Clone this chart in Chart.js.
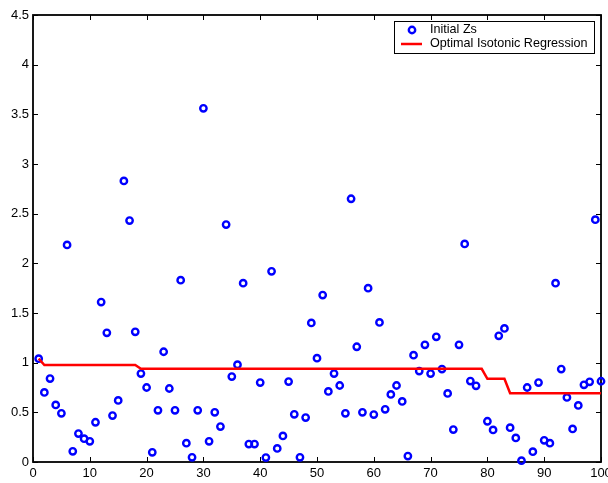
<!DOCTYPE html>
<html>
<head>
<meta charset="utf-8">
<script src="https://cdn.jsdelivr.net/npm/chart.js@4/dist/chart.umd.min.js"></script>
<style>
    html, body { margin: 0; padding: 0; background: #fff; overflow: hidden; }
    #wrap { width: 608px; height: 483px; overflow: hidden; }
</style>
</head>
<body>
<div id="wrap"><canvas id="zChart" width="620" height="483"></canvas></div>
<script>
// sample index (x)
const sampleIdx = [
    1, 2, 3, 4, 5, 6, 7, 8, 9, 10,
    11, 12, 13, 14, 15, 16, 17, 18, 19, 20,
    21, 22, 23, 24, 25, 26, 27, 28, 29, 30,
    31, 32, 33, 34, 35, 36, 37, 38, 39, 40,
    41, 42, 43, 44, 45, 46, 47, 48, 49, 50,
    51, 52, 53, 54, 55, 56, 57, 58, 59, 60,
    61, 62, 63, 64, 65, 66, 67, 68, 69, 70,
    71, 72, 73, 74, 75, 76, 77, 78, 79, 80,
    81, 82, 83, 84, 85, 86, 87, 88, 89, 90,
    91, 92, 93, 94, 95, 96, 97, 98, 99, 100
];

// initial Zs
const initialZs = [
    1.04, 0.70, 0.84, 0.575, 0.49, 2.185, 0.107, 0.286, 0.235, 0.208,
    0.40, 1.61, 1.30, 0.467, 0.62, 2.83, 2.43, 1.31, 0.89, 0.75,
    0.097, 0.52, 1.11, 0.74, 0.52, 1.83, 0.19, 0.047, 0.52, 3.56,
    0.208, 0.50, 0.357, 2.39, 0.86, 0.98, 1.80, 0.18, 0.18, 0.80,
    0.045, 1.92, 0.137, 0.262, 0.81, 0.48, 0.047, 0.447, 1.40, 1.045,
    1.68, 0.71, 0.89, 0.77, 0.49, 2.65, 1.16, 0.50, 1.75, 0.477,
    1.405, 0.53, 0.68, 0.77, 0.61, 0.06, 1.075, 0.915, 1.18, 0.89,
    1.26, 0.935, 0.69, 0.326, 1.18, 2.195, 0.815, 0.767, 4.25, 0.41,
    0.323, 1.27, 1.345, 0.346, 0.242, 0.013, 0.75, 0.104, 0.80, 0.218,
    0.19, 1.80, 0.935, 0.65, 0.333, 0.57, 0.777, 0.807, 2.44, 0.813
];

// fitted (isotonic) values
const isoFit = [
    1.04, 0.976, 0.976, 0.976, 0.976, 0.976, 0.976, 0.976, 0.976, 0.976,
    0.976, 0.976, 0.976, 0.976, 0.976, 0.976, 0.976, 0.976, 0.938, 0.938,
    0.938, 0.938, 0.938, 0.938, 0.938, 0.938, 0.938, 0.938, 0.938, 0.938,
    0.938, 0.938, 0.938, 0.938, 0.938, 0.938, 0.938, 0.938, 0.938, 0.938,
    0.938, 0.938, 0.938, 0.938, 0.938, 0.938, 0.938, 0.938, 0.938, 0.938,
    0.938, 0.938, 0.938, 0.938, 0.938, 0.938, 0.938, 0.938, 0.938, 0.938,
    0.938, 0.938, 0.938, 0.938, 0.938, 0.938, 0.938, 0.938, 0.938, 0.938,
    0.938, 0.938, 0.938, 0.938, 0.938, 0.938, 0.938, 0.938, 0.938, 0.837,
    0.837, 0.837, 0.837, 0.693, 0.693, 0.693, 0.693, 0.693, 0.693, 0.693,
    0.693, 0.693, 0.693, 0.693, 0.693, 0.693, 0.693, 0.693, 0.693, 0.693
];

const xTicks = [0, 10, 20, 30, 40, 50, 60, 70, 80, 90, 100];
const yTicks = [0, 0.5, 1, 1.5, 2, 2.5, 3, 3.5, 4, 4.5];
const yTickLabels = ['0', '0.5', '1', '1.5', '2', '2.5', '3', '3.5', '4', '4.5'];

const FONT = '"Liberation Sans", Arial, sans-serif';

// box around the plot with inward ticks on all sides
const framePlugin = {
    id: 'frame',
    beforeDatasetsDraw(chart) {
        const ctx = chart.ctx;
        const a = chart.chartArea;
        const xs = chart.scales.x, ys = chart.scales.y;
        ctx.save();
        ctx.strokeStyle = '#000';
        ctx.lineWidth = 1;
        xTicks.forEach(v => {
            const px = Math.round(xs.getPixelForValue(v)) + 0.5;
            ctx.beginPath();
            ctx.moveTo(px, a.bottom); ctx.lineTo(px, a.bottom - 5);
            ctx.moveTo(px, a.top); ctx.lineTo(px, a.top + 5);
            ctx.stroke();
        });
        yTicks.forEach(v => {
            const py = Math.round(ys.getPixelForValue(v)) + 0.5;
            ctx.beginPath();
            ctx.moveTo(a.left, py); ctx.lineTo(a.left + 5, py);
            ctx.moveTo(a.right, py); ctx.lineTo(a.right - 5, py);
            ctx.stroke();
        });
        ctx.lineWidth = 1.8;
        ctx.strokeRect(a.left, a.top, a.right - a.left, a.bottom - a.top);
        ctx.restore();
    }
};

// legend box drawn over the data, top right
const legendPlugin = {
    id: 'boxLegend',
    afterDraw(chart) {
        const ctx = chart.ctx;
        const ds = chart.data.datasets;
        const bx = 394, by = 21, bw = 200, bh = 32;
        ctx.save();
        ctx.fillStyle = '#fff';
        ctx.fillRect(bx, by, bw, bh);
        ctx.strokeStyle = '#000';
        ctx.lineWidth = 1;
        ctx.strokeRect(bx + 0.5, by + 0.5, bw, bh);

        ctx.strokeStyle = '#0000ff';
        ctx.lineWidth = 2.4;
        ctx.beginPath();
        ctx.arc(412, 30, 3.2, 0, Math.PI * 2);
        ctx.stroke();

        ctx.strokeStyle = '#ff0000';
        ctx.lineWidth = 2.5;
        ctx.beginPath();
        ctx.moveTo(401, 44); ctx.lineTo(422, 44);
        ctx.stroke();

        ctx.fillStyle = '#000';
        ctx.font = '12.6px ' + FONT;
        ctx.textBaseline = 'middle';
        ctx.fillText(ds[0].label, 430, 30);
        ctx.fillText(ds[1].label, 430, 44);
        ctx.restore();
    }
};

function createChart() {
    const ctx = document.getElementById('zChart').getContext('2d');
    const points = sampleIdx.map((x, i) => ({ x: x, y: initialZs[i] }));
    const fit = sampleIdx.map((x, i) => ({ x: x, y: isoFit[i] }));

    new Chart(ctx, {
        type: 'scatter',
        data: {
            datasets: [{
                label: 'Initial Zs',
                data: points,
                borderColor: '#0000ff',
                backgroundColor: 'rgba(0,0,0,0)',
                pointRadius: 3.2,
                pointBorderWidth: 2.4,
                pointHoverRadius: 3.2,
                clip: false,
                order: 1
            }, {
                label: 'Optimal Isotonic Regression',
                data: fit,
                showLine: true,
                borderColor: '#ff0000',
                borderWidth: 2.5,
                pointRadius: 0,
                fill: false,
                order: 0
            }]
        },
        options: {
            responsive: false,
            animation: false,
            devicePixelRatio: 1,
            layout: { padding: { left: 0, top: 15, right: 19, bottom: 0 } },
            plugins: {
                legend: { display: false },
                tooltip: { enabled: false }
            },
            scales: {
                x: {
                    type: 'linear',
                    min: 0,
                    max: 100,
                    afterBuildTicks: s => { s.ticks = xTicks.map(v => ({ value: v })); },
                    afterFit: s => { s.height = 21; },
                    grid: { display: false, drawTicks: false },
                    border: { display: false },
                    ticks: {
                        padding: 4,
                        color: '#000',
                        font: { family: FONT, size: 13 },
                        maxRotation: 0,
                        autoSkip: false,
                        callback: v => String(v)
                    }
                },
                y: {
                    type: 'linear',
                    min: 0,
                    max: 4.5,
                    afterBuildTicks: s => { s.ticks = yTicks.map(v => ({ value: v })); },
                    afterFit: s => { s.width = 33; },
                    grid: { display: false, drawTicks: false },
                    border: { display: false },
                    ticks: {
                        padding: 4,
                        color: '#000',
                        font: { family: FONT, size: 13 },
                        autoSkip: false,
                        callback: v => yTickLabels[yTicks.indexOf(v)]
                    }
                }
            }
        },
        plugins: [framePlugin, legendPlugin]
    });
}

document.addEventListener('DOMContentLoaded', createChart);
</script>
</body>
</html>
